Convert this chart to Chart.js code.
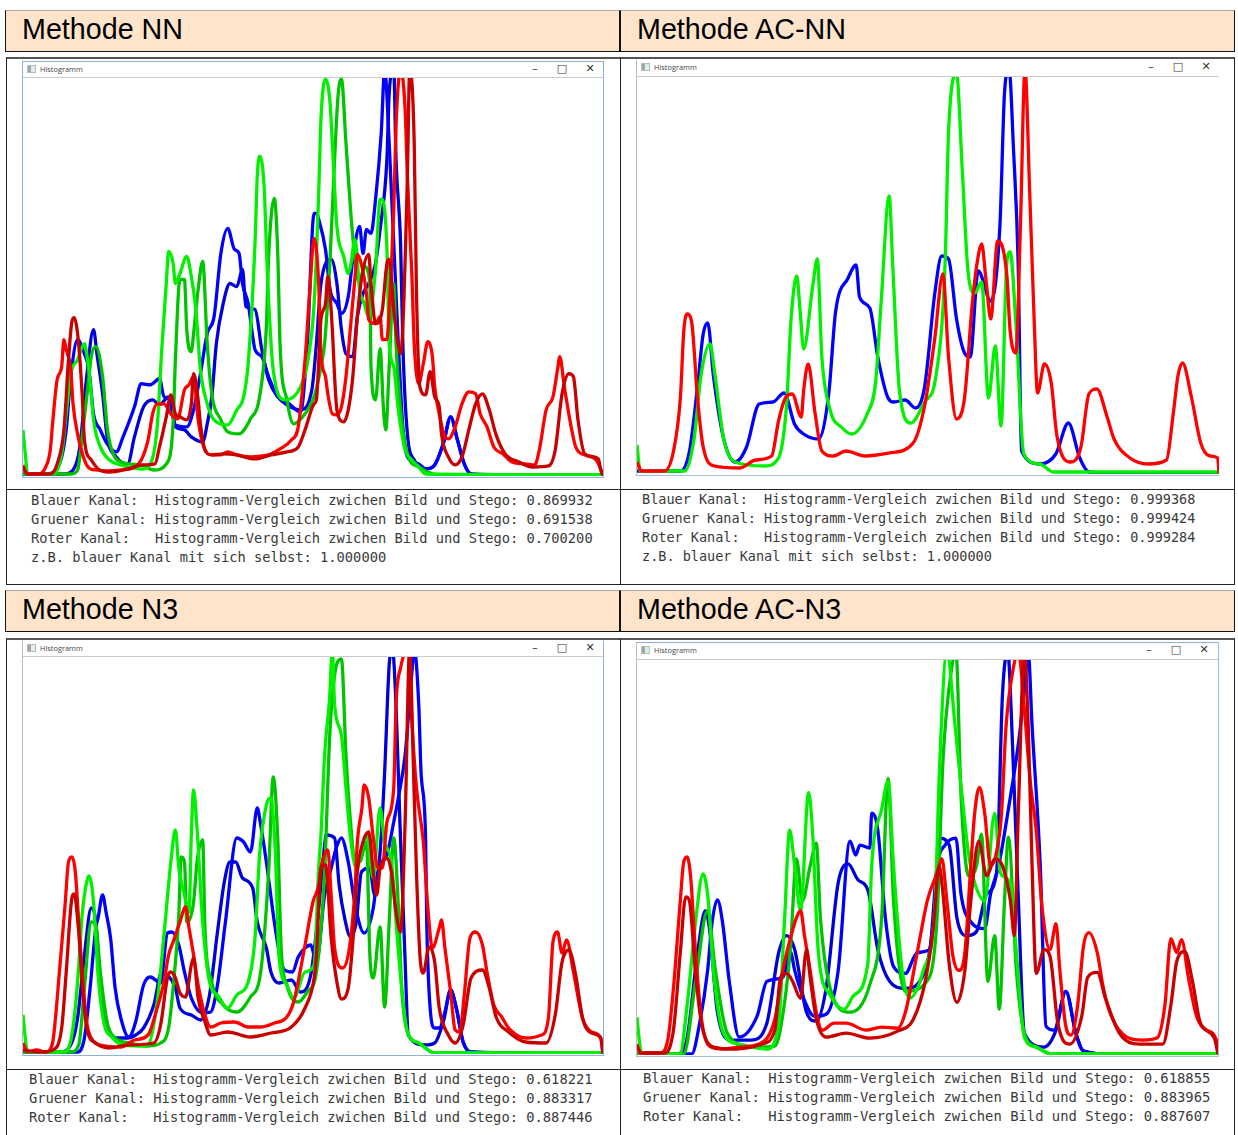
<!DOCTYPE html>
<html><head><meta charset="utf-8"><title>Histogramm-Vergleich</title>
<script src="https://cdn.jsdelivr.net/npm/chart.js@4/dist/chart.umd.min.js"></script>
<style>
html,body{margin:0;padding:0;background:#fff;width:1238px;height:1135px;overflow:hidden}
.abs{position:absolute;box-sizing:border-box}
.head{background:#ffe4cc;border:1px solid #111;border-top-color:#aaa;font:28.7px/37px "Liberation Sans",Arial,sans-serif;color:#000;padding-left:16px}
.frame{border:1px solid #222;border-top:2px solid #555}
.rule{height:1px;background:#222}
.bar{height:1px;background:#ccc}
.title{font:7.4px/10px "Open Sans","Noto Sans",sans-serif;color:#444}
.icon{width:9px;height:8px;background:linear-gradient(90deg,#9aa 0 40%,#dee 40% 100%);border:1px solid #bbb}
.ctl{font:11px/12px "DejaVu Sans",sans-serif;color:#333;width:14px;text-align:center}
.txt{font-family:"DejaVu Sans Mono",monospace;color:#3a3a3a;white-space:pre;line-height:19px}
canvas{display:block}
</style></head><body>
<script>
const chartTitles=["Methode NN","Methode AC-NN","Methode N3","Methode AC-N3"];
const binRange=[0,255];
const countRange=[0,397];
const colorRed="#ff0000",colorDarkRed="#c80000",colorGreen="#00f000",colorDarkGreen="#00c400",colorBlue="#0000ff",colorDarkBlue="#0000d8";

const kanalNames=["Blauer Kanal:  ","Gruener Kanal: ","Roter Kanal:   "];
const vergleichLabel="Histogramm-Vergleich zwichen Bild und Stego: ";
const selfLabel="z.B. blauer Kanal mit sich selbst: 1.000000";
const scoresNN=["0.869932","0.691538","0.700200"];
const scoresACNN=["0.999368","0.999424","0.999284"];
const scoresN3=["0.618221","0.883317","0.887446"];
const scoresACN3=["0.618855","0.883965","0.887607"];

// each list: bin, count, bin, count ...
const nnRedA=[0,11,1,4,3,2,7,2,10,9,12,26,13,52,15,96,17,109,18,136,19,126,21,106,22,72,24,42,27,16,29,8,32,6,37,5,43,6,49,9,52,16,55,36,57,62,59,72,62,72,65,62,68,57,71,86,73,91,75,99,77,56,80,26,83,21,87,21,90,24,94,21,100,19,105,20,109,22,113,27,118,36,121,49,124,116,126,182,128,237,130,192,131,122,133,99,134,82,136,62,138,61,140,69,142,99,144,149,146,199,147,221,149,209,151,182,152,156,155,152,157,159,158,136,160,136,161,166,163,266,164,349,166,405,168,366,169,299,171,199,172,132,174,92,176,112,178,134,180,119,181,89,183,62,185,42,187,37,190,49,193,72,196,84,199,82,201,62,204,49,207,29,211,22,215,14,221,12,225,11,227,26,230,66,233,79,235,106,236,119,238,89,241,49,243,29,247,21,252,16,255,2];
const nnRedB=[0,9,2,2,8,2,12,2,15,12,18,46,20,116,21.5,154,22.5,158,24,142,26,82,27,36,30,16,33,7,38,4,46,7,53,11,58,12,60,29,63,59,65,81,67,62,69,59,72,56,74,72,75,102,77,76,78,52,80,26,83,21,88,22,94,21,102,17,109,21,116,24,121,29,124,46,128,72,129,76,131,156,133,172,134,199,136,146,137,99,138,66,141,54,143,66,145,99,147,159,149,199,152,221,153,192,155,152,158,166,160,212,161,216,163,166,166,122,167,149,169,299,170,405,172,332,173,182,174.5,89,177,81,179,104,181,79,183,69,184,42,187,19,190,11,193,19,196,46,199,72,202,82,205,66,208,41,212,22,218,14,224,9,231,10,234,26,237,82,240,102,242,99,244,56,247,22,253,17,254,6,255,0];
const nnGreenA=[0,46,1,22,2,2,13,2,17,22,19,62,21,102,24,116,27,132,28,122,30,82,31,56,34,29,38,16,43,11,52,7,56,12,59,49,61,126,63,192,64,224,66,212,67,192,69,202,72,219,74,199,76,166,78,106,81,72,84,56,90,51,94,66,97,79,99,112,102,232,103,299,104,319,106,289,107.5,199,110,106,115,76,119,79,122,89,125,112,128,172,130,282,131,356,133,396,135,372,136,332,138,249,141,219,143,202,144,209,146,236,148,186,150,172,152,159,155,206,157,276,158,276,160,226,161,132,163,109,165,66,168,26,171,16,174,9,177,2,255,1];
const nnGreenB=[0,2,21,2,24,6,26,39,29,99,30,119,32,129,35,99,37,49,39,26,43,14,52,11,57.5,6,63,12,66,52,67,116,69,196,71,196,72,146,74,124,75,142,77,186,79,214,81,132,83,82,87,56,90,44,95,42,100,57,104,79,107,149,108,219,110.5,277,112,222,113,132,116,76,119,52,124,62,128,79,131,109,132.6,132,135,216,137,316,138.5,379,140,396,142,332,144,266,146,216,148,192,150,209,152.5,192,153,109,155,76,157,127,158.5,66,159.5,46,161,109,163,192,164,132,166,66,169,22,174,9,183,1,255,1];
const nnBlueA=[0,2,10,2,16,12,19,46,21,99,24,136,27,122,29,106,31,62,34,46,37,32,41,24,44,39,49,69,52,92,56,91,60,97,62,79,65,76,67,51,72,49,75,66,78,102,81,142,84,159,87,222,90,247,93,226,95,222,96.5,192,99,172,101,139,102,126,105,119,108,99,112,79,116,74,122,64,125,132,128,262,129,262,130,256,133,226,135,186,138,172,140,162,143,179,145,216,148,249,149.5,222,151,246,153,242,155,276,157.5,342,159,405,161,332,162,282,163,232,165,132,167,49,169,19,174,12,177,7,181,11,185,34,188,59,191,36,194,12,197,2,208,0,255,0];
const nnBlueB=[0,2,18,2,22,6,25,29,28,99,31,146,32.5,122,35,82,37,39,41,19,46,12,49,39,53,69,57,76,60,71,64,79,67,49,71,46,74,39,79,34,81,52,83,79,85,132,88,172,91,192,94,189,96.5,206,98,169,102,166,105,126,108,96,112,79,116,71,122,66,127,86,129,132,131,192,135.5,216,138,192,140,146,142,122,145,119,147,159,149.5,182,152,192,155,212,157,246,160,316,161,382,163,405,164,316,166,232,167,132,169,42,172,16,177,7,181,11,185,34,188,59,191,36,194,12,197,2,255,0];

const acnnRed=[0,12,2,3,12,3,16,23,19,76,20.5,143,22,160,24,151,26.5,76,29,27,34,8,45,6,52,14,59,18,62,53,65,76,68,80,72,57,73,83,75,110,78,61,81,23,86,18,91.5,23,100,18,110.5,21,121,31,126,68,130.5,136,134,200,136.5,117,140,55,143.5,76,147,173,149.5,218,151,230,153,192,155,155,158,233,162,200,163.5,143,166,121,168,248,170,405,172,286,174,155,175.5,81,178.5,110,181.5,91,184,38,190,12,194.5,27,198,80,201.5,85,206,57,209,35,216,16,224,10,232,14,235,61,237,98,239,111,243,76,247,31,251,18,254.4,16,255,1];
const acnnGreen=[0,29,1.4,3,21,3,25,35,28,98,32,130,34,102,38,35,43,12,56,8,62,16,65.5,68,67.5,155,70,198,71.5,162,73,125,77,188,79,215,81,117,84.5,65,90,46,94,40,101,61,104.5,91,107,173,110.5,278,112,211,115,83,120,51,126,72,131,98,135,211,136.5,342,140,400,142.5,305,145,203,148,181,151,192,154,76,157,128,159.5,48,162,211,163.5,222,166,151,169.5,20,176.5,10,182.5,2,255,2];
const acnnBlue=[0,3,19,3,23,23,26.5,87,29,140,31,151,33.5,98,38,35,43,12,48,27,53.5,70,59.5,72,64.5,81,69,50,73,40,79.5,35,84,80,87,162,92.5,196,96,209,97.5,177,102,166,105.5,117,110,76,112.5,72,117.5,74,122,66,126,87,130.5,181,133.5,218,136.5,215,140,155,143.5,121,146,117,149.5,203,155,173,159,248,161,380,163,405,165,323,167,211,168.5,23,176.5,10,183.5,20,189,51,194,16,198,2,207.5,1,255,1];

const n3RedA=[0,11,2,2,6,4,10,2,13,11,14,29,16,82,18.5,149,20,192,21.5,197,23,182,24.5,132,26,82,28,32,30,16,34,9,43,7,49,14,55,19,59,46,62,72,64,99,66,112,69,132,71.5,147,73,126,75,99,77,69,80,39,82.5,27,87,31,93,32,99,27,104.5,27,110.5,31,116,37,119,52,124,109,127.5,152,130,169,131,186,134,204,135.5,159,137,106,140.5,86,143.5,106,146,166,147,212,149,246,150,269,152,256,154,216,156,186,158,186,160,232,163,266,164,349,166,386,169.5,405,171,332,173,266,176,212,178,146,180,106,183,126,184,134,185.5,106,188,62,190,24,192,22,194,59,196.5,116,199,122,202,109,204,82,207,49,210.5,37,213.5,26,221,16,228,19,231,36,233,112,235,122,237,101,239,114,242,82,246,36,250,22,254,16,255,0];
const n3RedB=[0,4,7.5,2,13,4,17,26,19,82,21.5,156,22.5,160,24.5,122,26,72,28,26,32,11,38,6,46,9,57.5,11,60.5,29,63.5,76,65,82,67,76,69,61,71.5,57,74,89,75,96,77,56,80,32,82.5,19,90,22,100,17,109,21,118,27,124,46,128,76,129,99,131,186,133,189,135.5,116,138,72,140,55,143,66,145,112,147,182,149.5,212,152,222,154,182,155.5,159,157,186,160,196,162,182,164,142,166,122,168,232,170,405,171.5,299,173,182,174.5,99,176,81,178.5,107,181,92,183,46,187,19,190,11,193.5,29,197,76,202,84,205,66,208,37,213.5,22,221,12,230,11,234,39,237,92,240,104,243,79,246,36,250,21,254,16,255,0];
const n3GreenA=[0,39,1,16,2,2,18,2,21.5,19,24,72,26,139,28,172,29,178,31,152,33,79,35.5,32,39,17,44,9,54.5,8,59,52,62.5,132,65,192,67,224,68.5,186,71,159,73,142,74,219,75,264,76.5,226,79,132,82,72,85.5,59,90,46,94,59,99,72,102,116,104,199,107,249,109,256,111,199,112.5,99,116,69,119,56,124,82,128,89,130,186,131,219,132.6,299,134.8,356,136,405,137,349,140,319,142,266,144,216,146.5,186,151,219,154,176,157,246,159,212,162,192,164,132,166.5,66,169,22,174,11,181,1,255,1];
const n3GreenB=[0,2,21,2,24.5,9,27,66,30,132,32,129,34,82,37,32,40.5,16,47,11,55,8,60.5,11,64,26,66,66,68.5,139,69.5,197,71,192,72,132,75,152,76.5,192,79,214,80,126,83,72,88,49,94,42,100,57,104.5,82,108,182,110,277,112,216,113.5,106,116,69,121,52,125,62,129,82,132.6,182,134.8,316,137,379,140,395,142,299,144,232,146,192,148,192,151,212,152.5,99,154,76,157,127,159,47,161,132,163,216,165,149,166.5,66,169,22,174,11,181,1,255,1];
const n3BlueA=[0,2,24,2,27,16,29.5,66,32,126,33,136,35,159,36.5,142,38.5,116,40.5,66,43,36,46.5,17,49.5,32,53,69,56,77,60.5,71,63.5,121,65.5,122,68.5,109,71,82,74,56,79,41,82.5,42,85.5,69,89,132,94,216,97,212,100,202,103,246,104.5,229,107,192,110.5,132,113.5,92,115,84,118.5,82,121,97,124,106,126.5,109,129,92,132.6,159,135.5,186,137.7,206,140,216,143,192,146,149,150,121,154,146,156,182,160,199,163,232,165,256,168,299,171,382,172,405,174,349,175,282,177,216,177.5,132,179,46,181,26,183,26,185.5,42,188,64,190.5,46,193.5,12,197,2,215,1,255,0];
const n3BlueB=[0,2,16,2,21,9,24,36,27,99,30,146,32,132,34,66,37,29,41,16,46,16,49.5,19,53,26,57.5,49,61,82,63.5,79,67,66,69,46,74,39,78,34,82,59,85.5,122,88.5,172,91,192,93.5,192,96.5,176,101,166,103,132,107,106,109,82,112.5,71,118,74,122,62,126.5,79,129.6,136,132.6,209,133.3,219,137,216,139,169,141.4,136,144,117,146.5,132,148.8,182,152.4,186,154.6,159,156.9,199,159,282,161,389,162.4,405,164,349,165.7,232,167.9,99,169.4,19,176.7,9,181,11,185,34,188,64,190.5,46,193.5,12,197,2,255,0];

const acn3RedA=[0,11,1.4,2,10,2,13.5,15,16,67,19,155,20.5,194,22,199,23.5,180,25.7,103,28.3,36,31.8,9,38,6,45,8,53.5,11,60.5,36,64,85,66.5,110,70,138,71.8,145,73.5,120,76,85,78.7,43,81.3,25,86.5,32,91.8,32,100.5,25,107.4,28,114.4,27,117.8,43,123,103,127.4,155,131.7,183,133.8,197,136,155,138.7,99,141.3,85,143.9,103,146.5,190,148.2,243,150.3,269,152.6,243,155.2,190,157.8,204,159.9,240,162,331,164.8,384,167.4,405,170,348,172.6,275,175.2,226,177.8,148,181.3,106,183.9,132,185.6,85,188.2,29,190.5,20,193.4,50,196,110,198.3,123,202,103,204.7,67,208.2,39,215,18,222,15,228.2,17,231.7,50,234.3,117,236.9,103,239,116,242,78,245.6,39,250,25,254.3,15,255,1];
const acn3RedB=[0,8,2,2,12,2,16,25,19,103,21.4,159,23,155,25.7,82,28.3,32,33.5,8,43,6,55,11,60.5,25,63,78,65.7,82,68.3,74,71.8,57,74.4,106,76,78,78.7,36,83,18,91.8,22,102,17,114.4,24,121.3,36,126.5,74,130,127,132.6,190,134.3,162,137,92,140.4,53,143.9,85,146.5,155,150,215,153.5,180,157,197,160.4,190,163.9,155,165.6,120,167.4,247,170,405,171.7,331,173.4,190,175.2,82,178.7,106,181.3,99,184.7,32,190,11,195.2,39,197.8,78,202,83,205.6,57,211.7,22,220.4,11,230.8,11,234.3,50,236.9,94,240.4,104,243.8,74,247.3,32,253.4,17,255,1];
const acn3GreenA=[0,38,1,15,2,1,18.8,1,22,50,25.7,134,29,182,31.3,155,33.5,85,37.9,22,44.8,11,57,6,62.2,32,64.8,138,67,226,69.2,190,71.8,145,75.3,264,77,226,79.6,103,84.8,60,90.9,46,95.2,60,101.3,92,103,190,107.4,247,110.2,275,112.6,190,116,92,119.6,57,125.7,85,130.9,155,132.6,278,136,405,139.6,331,142.2,271,145.6,201,148.2,173,152.6,155,157,243,159.5,183,163.9,173,166.5,103,170,18,175.2,8,182,1,255,1];
const acn3GreenB=[0,1,20.5,1,25.7,74,31,145,34.4,85,39.6,22,50,8,60.5,9,64.8,53,67.4,110,70,197,72.6,155,76,190,78.7,213,80.5,138,84.8,67,93.5,43,102.2,71,107.4,138,110.2,278,112.6,155,117.8,64,128.3,78,131.7,138,134.3,296,137.8,384,140,405,142.2,261,145.6,180,149,190,151.2,222,154,74,157,120,159,46,161.3,155,163,219,166.5,85,170,22,175.2,8,182,1,255,1];
const acn3BlueA=[0,1,24,1,27.5,32,31,85,33,134,35.3,156,37.5,134,40.5,74,44.8,18,52.7,39,57,74,64,78,67.4,103,69.2,85,72.6,60,77.9,39,83,41,88.3,85,93.5,215,96,201,97.8,211,102.2,208,103,243,105.7,226,109,138,112.6,89,117.8,82,123,103,128.3,106,131.7,190,135.2,211,140,218,142.2,162,146.5,134,152.6,127,155.2,162,158.7,190,163,247,167.4,313,170,366,171.7,405,173.4,331,177,190,179.5,29,183,25,188.2,64,192.6,22,196,4,213.4,0,255,0];
const acn3BlueB=[0,1,17,1,21.4,11,26.6,103,30,145,31.8,127,35.3,43,41.4,15,50,15,57,32,62.2,103,65.7,120,69.2,106,74.4,43,78.7,34,83,67,88.3,173,92.6,192,97,176,101.3,166,105.7,106,110.9,74,117.8,67,126.5,85,130.9,155,132.6,218,137,211,140.4,138,144.8,120,149,124,153.5,162,157.8,183,160.4,362,162.7,405,164.8,313,167.4,155,170,22,178.7,8,183.9,25,188.2,64,192.6,22,196,4,213.4,0,255,0];

const pairs=a=>{const o=[];for(let i=0;i<a.length;i+=2)o.push({x:a[i],y:a[i+1]});return o;};
const el=(cls,st,txt)=>{const d=document.createElement('div');d.className='abs '+cls;Object.assign(d.style,st);if(txt!==undefined)d.textContent=txt;document.body.appendChild(d);return d;};
const px=v=>v+'px';
const box=(cls,l,t,w,h,txt)=>el(cls,{left:px(l),top:px(t),width:px(w),height:px(h)},txt);

const blueEdge="#8fb0d8",greyEdge="#bdbdbd",baseEdge="#a9bfd6";
const panels=[
 {title:chartTitles[0],hx:5,hy:10,fx:6,fy:57,fh:528,ruleY:489,plot:[23,78,580,398],barY:62,tx:31,ty:491,fs:13.72,scores:scoresNN,self:true,edges:[blueEdge,blueEdge,blueEdge,blueEdge],ctlX:0,
  series:[[nnRedB,colorDarkRed],[nnRedA,colorRed],[nnGreenA,colorGreen],[nnGreenB,colorDarkGreen],[nnBlueA,colorBlue],[nnBlueB,colorDarkBlue]]},
 {title:chartTitles[1],hx:620,hy:10,fx:620,fy:57,fh:528,ruleY:489,plot:[637,77,582,397],barY:60,tx:642,ty:490,fs:13.53,scores:scoresACNN,self:true,edges:['#fff','#fff',baseEdge,greyEdge],ctlX:2,
  series:[[acnnRed,colorRed],[acnnGreen,colorGreen],[acnnBlue,colorBlue]]},
 {title:chartTitles[2],hx:5,hy:590,fx:6,fy:638,fh:500,ruleY:1069,plot:[23,657,580,397],barY:641,tx:29,ty:1070,fs:13.77,scores:scoresN3,self:false,edges:['#fff',blueEdge,blueEdge,greyEdge],ctlX:0,
  series:[[n3RedB,colorDarkRed],[n3RedA,colorRed],[n3GreenA,colorGreen],[n3GreenB,colorDarkGreen],[n3BlueA,colorBlue],[n3BlueB,colorDarkBlue]]},
 {title:chartTitles[3],hx:620,hy:590,fx:620,fy:638,fh:500,ruleY:1069,plot:[637,660,581,395],barY:643,tx:643,ty:1069,fs:13.87,scores:scoresACN3,self:false,edges:[blueEdge,"#9dbbdc",baseEdge,greyEdge],ctlX:0,
  series:[[acn3RedB,colorDarkRed],[acn3RedA,colorRed],[acn3GreenA,colorGreen],[acn3GreenB,colorDarkGreen],[acn3BlueA,colorBlue],[acn3BlueB,colorDarkBlue]]}
];

panels.forEach(p=>{
  const [x,y,w,h]=p.plot;
  box('head',p.hx,p.hy,615,42,p.title);
  box('frame',p.fx,p.fy,615,p.fh);
  box('rule',p.fx,p.ruleY,615,1);
  const win=box('',x-1,p.barY-1,w+2,y+h-p.barY+3);
  win.style.background='#fff';
  const [t,r,b,l]=p.edges;
  win.style.borderStyle='solid';win.style.borderWidth='1px';
  win.style.borderColor=[t,r,b,l].join(' ');
  box('bar',x,y-1,w,1);
  box('icon',x+4,p.barY+3,9,8);
  box('title',x+17,p.barY+2,80,10,'Histogramm');
  box('ctl',x+505+p.ctlX,p.barY+1,14,12,'\u2013');
  box('ctl',x+532+p.ctlX,p.barY+1,14,12,'\u25a1');
  box('ctl',x+560+p.ctlX,p.barY+1,14,12,'\u2715');
  const wrap=box('',x,y,w,h);
  const c=document.createElement('canvas');c.width=w;c.height=h;wrap.appendChild(c);
  new Chart(c,{type:'scatter',data:{datasets:p.series.map(([vals,col])=>({data:pairs(vals),borderColor:col,backgroundColor:col,showLine:true,borderWidth:3.3,pointRadius:0,cubicInterpolationMode:'monotone',clip:2}))},
    options:{responsive:false,animation:false,events:[],layout:{padding:0},
      plugins:{legend:{display:false},tooltip:{enabled:false},title:{display:false}},
      scales:{x:{type:'linear',min:binRange[0],max:binRange[1],display:false},y:{type:'linear',min:countRange[0],max:countRange[1],display:false}}}});
  const lines=kanalNames.map((k,i)=>k+vergleichLabel+p.scores[i]);
  if(p.self)lines.push(selfLabel);
  lines.forEach((s,i)=>{const d=box('txt',p.tx,p.ty+i*19,600,19,s);d.style.fontSize=px(p.fs);});
});
</script>
</body></html>
